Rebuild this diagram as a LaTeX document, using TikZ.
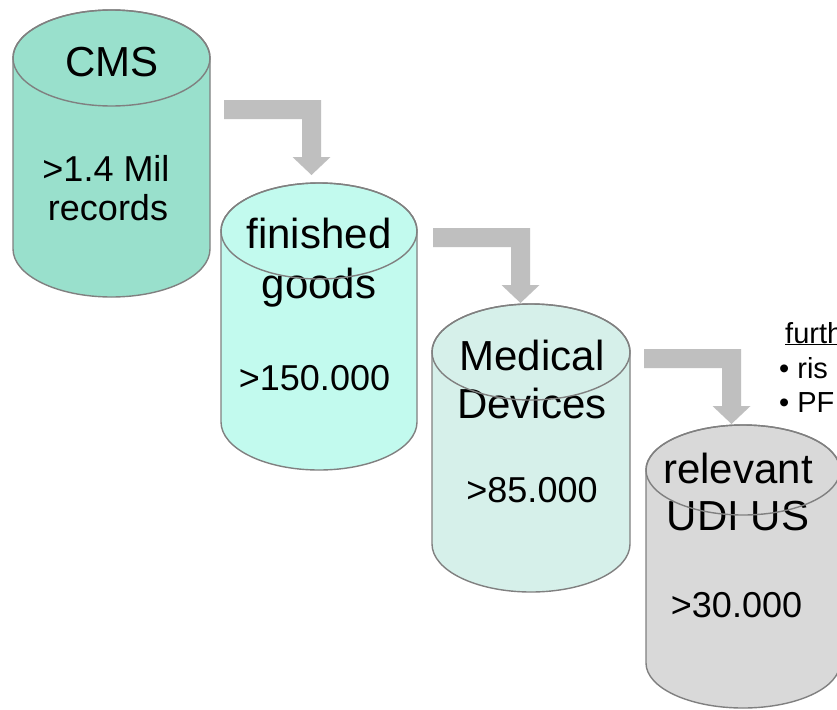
\documentclass[tikz,border=0pt]{standalone}
\usepackage{fontspec}
\setmainfont{Liberation Sans}
\definecolor{cmsfill}{RGB}{153,224,204}
\definecolor{goodsfill}{RGB}{194,250,238}
\definecolor{medfill}{RGB}{214,240,234}
\definecolor{udifill}{RGB}{217,217,217}
\definecolor{cylline}{RGB}{128,128,128}
\definecolor{arrowgray}{RGB}{191,191,191}
\tikzset{
  cylside/.style={draw=cylline, line width=1.4pt},
  blockarrow/.style={fill=arrowgray, draw=none},
  title/.style={font=\fontsize{42}{50}\selectfont, anchor=base, inner sep=0pt},
  count/.style={font=\fontsize{36}{43}\selectfont, anchor=base, inner sep=0pt},
  note/.style={font=\fontsize{29}{34}\selectfont, anchor=base west, inner sep=0pt},
}
% #1 name, #2 cx, #3 top-centre y, #4 bottom-centre y, #5 rx, #6 ry, #7 fill
\newcommand\cylbody[7]{%
  \coordinate (#1) at (#2,-#3);
  \path[fill=#7, cylside] (#2-#5,-#3) -- (#2-#5,-#4)
    arc[start angle=180,end angle=360,x radius=#5,y radius=#6]
    -- (#2+#5,-#3)
    arc[start angle=0,end angle=180,x radius=#5,y radius=#6] -- cycle;
}
\newcommand\cyltop[4]{% #1 cx, #2 top-centre y, #3 rx, #4 ry
  \draw[cylside] (#1,-#2) ellipse[x radius=#3,y radius=#4];
}
% elbow block arrow, #1 name, #2 left, #3 top
\newcommand\elbow[3]{%
  \coordinate (#1) at (#2,-#3);
  \fill[blockarrow, shift={(#1)}] (0,0) -- (97,0) -- (97,-57) -- (106.5,-57)
    -- (87.5,-75) -- (68.5,-57) -- (78,-57) -- (78,-19) -- (0,-19) -- cycle;
}
\begin{document}
\begin{tikzpicture}[x=1pt,y=1pt]
\useasboundingbox (0,0) rectangle (837,-709);
\clip (0,0) rectangle (837,-709);
\fill[white] (0,0) rectangle (837,-709);

% arrows
\elbow{arrA}{224}{100}
\elbow{arrB}{433}{228}
\elbow{arrC}{644}{349}

% cylinder bodies
\cylbody{cms}{111.5}{58}{249}{98.5}{48}{cmsfill}
\cylbody{goods}{319}{231}{422}{98}{48}{goodsfill}
\cylbody{med}{531}{352}{544}{99}{48}{medfill}
\cylbody{udi}{743}{470}{663}{97}{45}{udifill}

% texts
\node[title] (t1) at (112,-77) {CMS};
\node[count] (n1a) at (106,-181) {>1.4 Mil};
\node[count] (n1b) at (108,-220) {records};

\node[title] (t2a) at (319,-248) {finished};
\node[title] (t2b) at (319,-298) {goods};
\node[count] (n2) at (314.5,-390) {>150.000};

\node[title] (t3a) at (532,-370) {Medical};
\node[title] (t3b) at (532,-418) {Devices};
\node[count] (n3) at (532,-502) {>85.000};

\node[title] (t4a) at (738,-483) {relevant};
\node[title] (t4b) at (738,-530) {UDI US};
\node[count] (n4) at (736.5,-617) {>30.000};

\node[note] (f1) at (785,-343) {\underline{furth}};
\node[note] (f2) at (779,-378) {• ris};
\node[note] (f3) at (779,-412) {• PF};

% top ellipses
\cyltop{111.5}{58}{98.5}{48}
\cyltop{319}{231}{98}{48}
\cyltop{531}{352}{99}{48}
\cyltop{743}{470}{97}{45}
\end{tikzpicture}
\end{document}
